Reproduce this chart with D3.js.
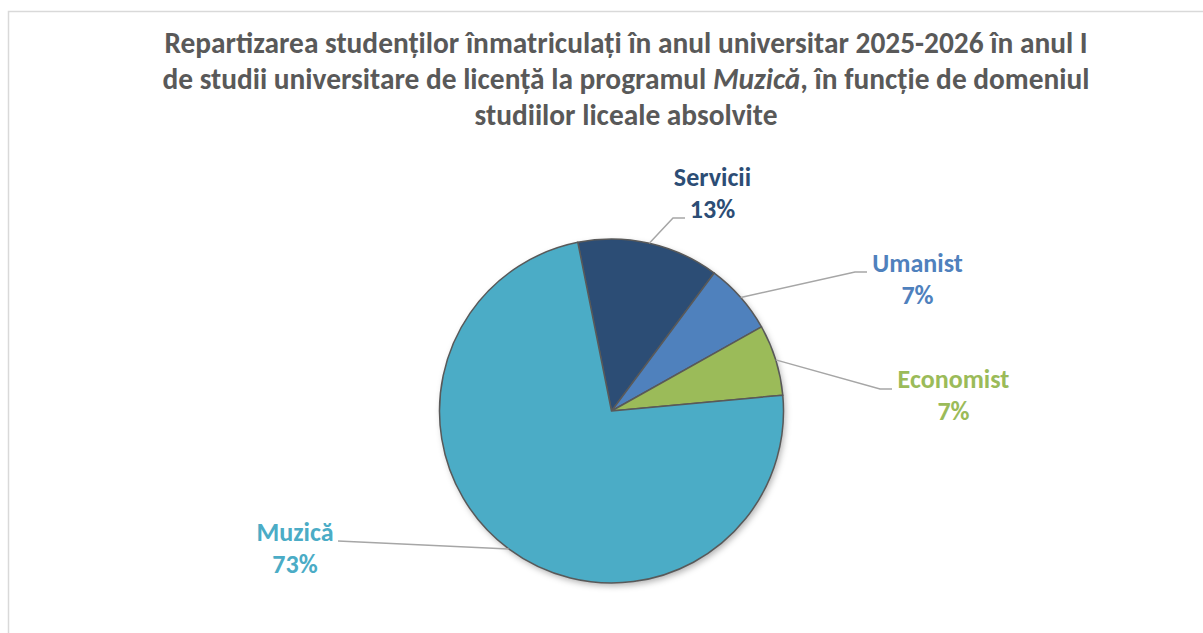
<!DOCTYPE html>
<html>
<head>
<meta charset="utf-8">
<script src="https://cdn.jsdelivr.net/npm/d3@7"></script>
<style>
  html, body { margin: 0; padding: 0; background: #fff; }
  svg { display: block; }
</style>
</head>
<body>
<svg id="chart" width="1203" height="633"></svg>
<script>
// ---- data ----
const categories = ["Servicii", "Umanist", "Economist", "Muzică"];
const values = [13.33, 6.67, 6.67, 73.33];
const percentLabels = ["13%", "7%", "7%", "73%"];
const colors = ["#2C4D75", "#4F81BD", "#9BBB59", "#4BACC6"];
const titleLines = [
  [{t: "Repartizarea studenților înmatriculați în anul universitar 2025-2026 în anul I"}],
  [{t: "de studii universitare de licență la programul "}, {t: "Muzică", i: true}, {t: ", în funcție de domeniul"}],
  [{t: "studiilor liceale absolvite"}]
];

// ---- layout (not data) ----
const W = 1203, H = 633;
const cx = 611.5, cy = 411, R = 172;
const startDeg = -11.3;
const FONT = "Carlito, Lato, 'Open Sans', sans-serif";
// label anchor (text center, baseline) & leader elbow for each category; w = reference name width
const labelLayout = {
  "Servicii":  {tx: 712.5, ty: 186, ex: 673, ey: 218, hx: 685, w: 79},
  "Umanist":   {tx: 917.5, ty: 272, ex: 855, ey: 272, hx: 867, w: 89},
  "Economist": {tx: 953.5, ty: 388, ex: 880, ey: 389, hx: 892, w: 113},
  "Muzică":    {tx: 295, ty: 541, ex: null, ey: null, hx: 338, hy: 541, w: 76}
};

const svg = d3.select("#chart");

// frame
svg.append("rect")
  .attr("x", 8.5).attr("y", 11.5)
  .attr("width", W + 20).attr("height", H + 20)
  .attr("fill", "#fff")
  .attr("stroke", "#d9d9d9").attr("stroke-width", 1.5);

// title
const title = svg.append("text")
  .attr("text-anchor", "middle")
  .attr("font-family", FONT)
  .attr("font-weight", "bold")
  .attr("font-size", 24)
  .attr("fill", "#595959");
const titleBase = [53, 89, 125];
titleLines.forEach((line, li) => {
  const t = title.append("tspan").attr("x", 626).attr("y", titleBase[li]);
  line.forEach(seg => {
    const s = t.append("tspan").text(seg.t);
    if (seg.i) s.attr("font-style", "italic");
  });
});
{
  const first = title.select("tspan").node();
  const w = first.getComputedTextLength();
  title.attr("font-size", 24 * 924 / w);
}

// shadow filter
const defs = svg.append("defs");
const f = defs.append("filter").attr("id", "shadow")
  .attr("x", "-10%").attr("y", "-10%").attr("width", "130%").attr("height", "130%");
f.append("feDropShadow").attr("dx", 2).attr("dy", 3).attr("stdDeviation", 3)
  .attr("flood-color", "#000").attr("flood-opacity", 0.3);

const pie = d3.pie().sort(null).value(d => d.v)
  .startAngle(startDeg * Math.PI / 180)
  .endAngle(startDeg * Math.PI / 180 + 2 * Math.PI);
const data = categories.map((c, i) => ({c, v: values[i], p: percentLabels[i], col: colors[i]}));
const arcs = pie(data);
const arc = d3.arc().innerRadius(0).outerRadius(R);

const g = svg.append("g").attr("transform", `translate(${cx},${cy})`);
g.append("circle").attr("r", R).attr("fill", "#4BACC6").attr("filter", "url(#shadow)");
g.selectAll("path.slice").data(arcs).join("path")
  .attr("class", "slice")
  .attr("d", arc)
  .attr("fill", d => d.data.col)
  .attr("stroke", "#595959")
  .attr("stroke-width", 1.5)
  .attr("stroke-linejoin", "round");

// leader lines
arcs.forEach(a => {
  const mid = (a.startAngle + a.endAngle) / 2;
  const sx = cx + R * Math.sin(mid), sy = cy - R * Math.cos(mid);
  const L = labelLayout[a.data.c];
  let pts;
  if (L.ex != null) pts = [[sx, sy], [L.ex, L.ey], [L.hx, L.ey]];
  else pts = [[sx, sy], [L.hx, L.hy]];
  svg.append("path")
    .attr("d", d3.line()(pts))
    .attr("fill", "none")
    .attr("stroke", "#a6a6a6")
    .attr("stroke-width", 1.5);
});

// labels: size fitted to reference widths (average ratio)
const labels = [];
arcs.forEach(a => {
  const L = labelLayout[a.data.c];
  const t = svg.append("text")
    .attr("text-anchor", "middle")
    .attr("font-family", FONT)
    .attr("font-weight", "bold")
    .attr("font-size", 20)
    .attr("fill", a.data.col);
  const n = t.append("tspan").attr("x", L.tx).attr("y", L.ty).text(a.data.c);
  t.append("tspan").attr("x", L.tx).attr("y", L.ty + 32).text(a.data.p);
  labels.push({t, n, L});
});
let ratio = 0;
labels.forEach(o => { ratio += o.L.w / o.n.node().getComputedTextLength(); });
ratio /= labels.length;
labels.forEach(o => o.t.attr("font-size", 20 * ratio));
</script>
</body>
</html>
